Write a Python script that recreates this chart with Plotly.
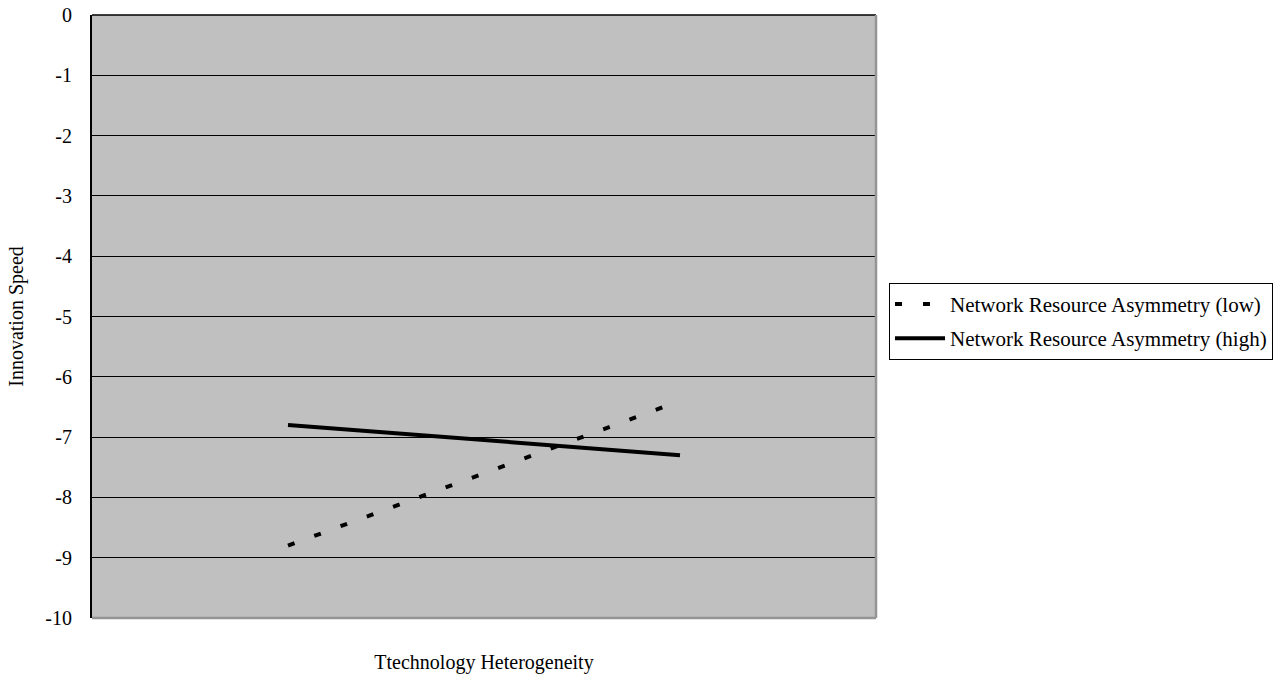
import plotly.graph_objects as go

# ---- data ----
x_categories = ["Low", "High"]
low_values = [-8.8, -6.4]      # Network Resource Asymmetry (low)
high_values = [-6.8, -7.3]     # Network Resource Asymmetry (high)
y_ticks = [0, -1, -2, -3, -4, -5, -6, -7, -8, -9, -10]
series_names = ["Network Resource Asymmetry (low)", "Network Resource Asymmetry (high)"]
x_title = "Ttechnology Heterogeneity"
y_title = "Innovation Speed"

FONT = "Liberation Serif, Times New Roman, serif"

fig = go.Figure()
fig.add_trace(go.Scatter(
    x=x_categories, y=low_values, mode="lines", name=series_names[0],
    legendgroup="low",
    line=dict(color="black", width=4, dash="7px,21px"),
))
fig.add_trace(go.Scatter(
    x=x_categories, y=high_values, mode="lines", name=series_names[1],
    legendgroup="high",
    line=dict(color="black", width=4),
))

fig.update_layout(
    width=1281, height=682,
    margin=dict(l=92, r=405, t=15, b=64, autoexpand=False),
    paper_bgcolor="white",
    plot_bgcolor="#C0C0C0",
    font=dict(family=FONT, size=20, color="black"),
    showlegend=True,
    legend=dict(
        x=1.0166, xanchor="left", y=0.556, yanchor="top",
        bgcolor="white", bordercolor="black", borderwidth=1,
        font=dict(family=FONT, size=21, color="black"),
        itemwidth=50, tracegroupgap=4,
    ),
    xaxis=dict(
        type="category", range=[-0.5, 1.5],
        showticklabels=False, showgrid=False, zeroline=False,
        showline=False, ticks="",
        title=dict(text=x_title, standoff=36, font=dict(family=FONT, size=20)),
        automargin=False,
    ),
    yaxis=dict(
        range=[-10, 0], tickvals=y_ticks, ticktext=[str(v) for v in y_ticks],
        showgrid=True, gridcolor="black", gridwidth=1.2,
        zeroline=False, showline=True, linecolor="black", linewidth=2,
        ticks="", ticklabelstandoff=14,
        tickfont=dict(family=FONT, size=20),
        title=dict(text=y_title, standoff=16, font=dict(family=FONT, size=20)),
        automargin=False,
    ),
    shapes=[
        dict(type="line", xref="paper", yref="paper", x0=0, x1=1, y0=1, y1=1,
             line=dict(color="black", width=1.5), layer="above"),
        dict(type="line", xref="paper", yref="paper", x0=0, x1=1, y0=0, y1=0,
             line=dict(color="#959595", width=2.5), layer="above"),
        dict(type="line", xref="paper", yref="paper", x0=1, x1=1, y0=0, y1=1,
             line=dict(color="#959595", width=2.5), layer="above"),
    ],
)

fig.write_html("out.html")
